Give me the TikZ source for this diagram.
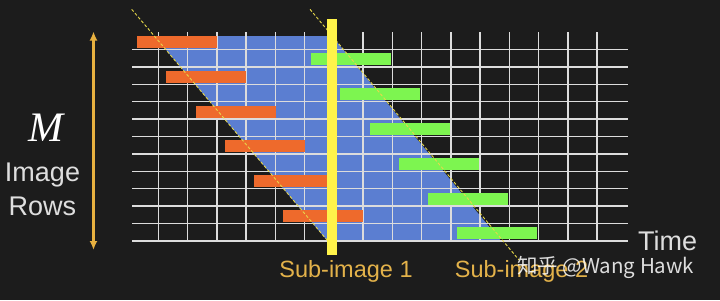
\documentclass[tikz,border=0pt]{standalone}
\usepackage{fontspec}
\usepackage{tikz}
\setmainfont{Liberation Sans}
\newfontfamily\serifit{Liberation Serif}
\newfontfamily\cjk{Noto Sans CJK SC}
\usetikzlibrary{arrows.meta,positioning,calc}
\definecolor{bgdark}{HTML}{1C1C1C}
\definecolor{gridgray}{HTML}{DCDCDC}
\definecolor{barorange}{HTML}{EE6A2C}
\definecolor{framefill}{HTML}{5B7ED1}
\definecolor{bargreen}{HTML}{7DF550}
\definecolor{subyellow}{HTML}{FFF34A}
\definecolor{guideyellow}{HTML}{E6D84A}
\definecolor{subgold}{HTML}{E3B24A}
\definecolor{arrowgold}{HTML}{E8B140}
\definecolor{labelgray}{HTML}{DEDEDE}

\begin{document}
\begin{tikzpicture}[
    x=1pt, y=-1pt,
    gridline/.style={draw=gridgray, line width=1.4pt},
    readbar/.style={fill=barorange},
    resetbar/.style={fill=bargreen},
    guide/.style={draw=guideyellow, line width=0.9pt, dash pattern=on 3pt off 2pt},
    rowarrow/.style={{Latex[length=9pt,width=8pt]}-{Latex[length=9pt,width=8pt]}, line width=2.2pt, draw=arrowgold},
    sidelabel/.style={text=labelgray, font=\fontsize{27}{33}\selectfont, anchor=base, inner sep=0pt},
    sublabel/.style={text=subgold, font=\fontsize{23.5}{28}\selectfont, anchor=base, inner sep=0pt}
]
\fill[bgdark] (0,0) rectangle (720,300);
\useasboundingbox (0,0) rectangle (720,300);

% frame being read out
\fill[framefill] (154.3,36) -- (332,36) -- (501,241) -- (327.5,241) -- cycle;

% time grid
\foreach \k in {1,...,12}
    \draw[gridline] (132,{32+17.4*\k}) -- (628,{32+17.4*\k});
\foreach \k in {0,...,15}
    \draw[gridline] ({158.3+29.25*\k},32) -- ({158.3+29.25*\k},241.2);

% readout and reset bars
\foreach \j in {0,...,5} {
    \fill[readbar] ({137+29.25*\j},{36+34.8*\j}) rectangle +(80,12);
    \fill[resetbar] ({311+29.25*\j},{53.4+34.8*\j}) rectangle +(80,12);
}

\draw[guide] (131.7,9.3) -- (327,240);
\draw[guide] (310,9.3) -- (519,260);
\fill[subyellow] (327,19) rectangle (337,255);

\coordinate (rowtop) at (93.5,31.5);
\coordinate (rowbot) at (93.5,250);
\draw[rowarrow] (rowtop) -- (rowbot);

\node[text=white, anchor=base, inner sep=0pt, font=\serifit\itshape\fontsize{42}{42}\selectfont] (mlabel) at (46,141.7) {M};
\node[sidelabel] (imagelabel) at (42.5,181.7) {Image};
\node[sidelabel] (rowslabel) at (42.5,215) {Rows};
\node[sidelabel, anchor=base west] (timelabel) at (638,250) {Time};
\node[sublabel] (subone) at (346,277.3) {Sub-image 1};
\node[sublabel] (subtwo) at (521.5,277.3) {Sub-image 2};
\node[text=white, opacity=0.85, anchor=base west, inner sep=0pt, font=\cjk\fontsize{20.5}{21}\selectfont] (wmark) at (517,273) {知乎 @Wang Hawk};
\end{tikzpicture}
\end{document}
